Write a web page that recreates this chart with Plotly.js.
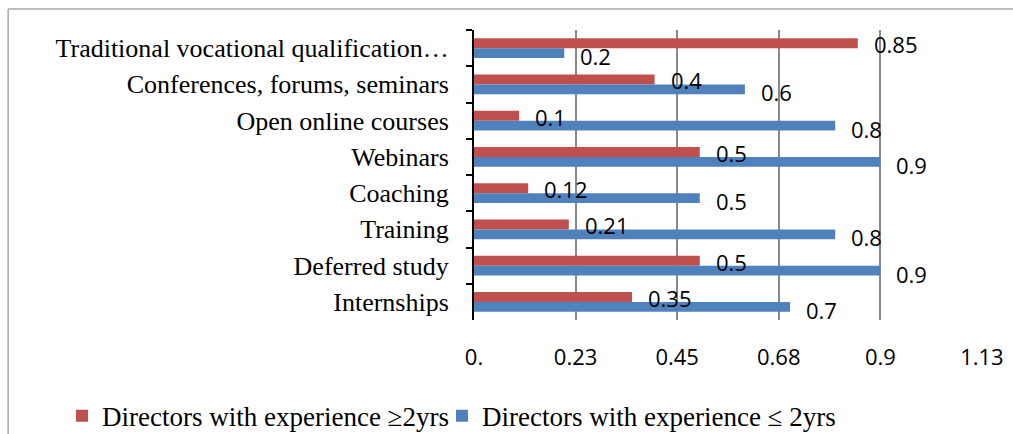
<!DOCTYPE html>
<html>
<head>
<meta charset="utf-8">
<script src="https://cdn.plot.ly/plotly-3.0.1.min.js"></script>
<style>html,body{margin:0;padding:0;background:#fff;}#chart{width:1013px;height:434px;}</style>
</head>
<body>
<div id="chart"></div>
<script>
// Categories, top to bottom as shown
const categories = [
  "Traditional vocational qualification\u2026",
  "Conferences, forums, seminars",
  "Open online courses",
  "Webinars",
  "Coaching",
  "Training",
  "Deferred study",
  "Internships"
];
const seriesNames = [
  "Directors with experience \u22652yrs",
  "Directors with experience \u2264 2yrs"
];
const moreThan2 = [0.85, 0.4, 0.1, 0.5, 0.12, 0.21, 0.5, 0.35];
const lessThan2 = [0.2, 0.6, 0.8, 0.9, 0.5, 0.8, 0.9, 0.7];
const tickVals = [0, 0.225, 0.45, 0.675, 0.9, 1.125];
const tickText = ["0.", "0.23", "0.45", "0.68", "0.9", "1.13"];

const serif = "Liberation Serif, Times New Roman, serif";
const sans = "Open Sans, Noto Sans, sans-serif";
const red = "#C0504D", blue = "#4F81BD";

const traces = [
  {type: "bar", orientation: "h", name: seriesNames[0], y: categories, x: moreThan2,
   marker: {color: red}, hoverinfo: "none", legend: "legend"},
  {type: "bar", orientation: "h", name: seriesNames[1], y: categories, x: lessThan2,
   marker: {color: blue}, hoverinfo: "none", legend: "legend2"}
];

const bargap = 0.45;
const half = (1 - bargap) / 4;
const annotations = [];
categories.forEach((c, i) => {
  annotations.push({x: moreThan2[i], y: i - half, xref: "x", yref: "y", text: String(moreThan2[i]),
    showarrow: false, xanchor: "left", yanchor: "middle", xshift: 14, yshift: -1,
    font: {family: sans, size: 22, color: "#000"}});
  annotations.push({x: lessThan2[i], y: i + half, xref: "x", yref: "y", text: String(lessThan2[i]),
    showarrow: false, xanchor: "left", yanchor: "middle", xshift: 14, yshift: -3,
    font: {family: sans, size: 22, color: "#000"}});
});

const legendStyle = {orientation: "h", xref: "container", yref: "container", xanchor: "left",
  y: 0.041, yanchor: "middle", font: {family: serif, size: 27, color: "#000"}, itemwidth: 30,
  borderwidth: 0, bgcolor: "rgba(0,0,0,0)"};

const layout = {
  width: 1013, height: 434,
  margin: {l: 474, r: 31, t: 30, b: 114, pad: 0},
  paper_bgcolor: "#fff", plot_bgcolor: "#fff",
  barmode: "group", bargap: bargap, bargroupgap: 0,
  showlegend: true,
  legend: Object.assign({}, legendStyle, {x: 62 / 1013}),
  legend2: Object.assign({}, legendStyle, {x: 442 / 1013}),
  xaxis: {range: [0, 1.1251], tickvals: tickVals, ticktext: tickText, showgrid: true,
    gridcolor: "#898989", gridwidth: 2, zeroline: false, showline: false, ticks: "",
    automargin: false,
    ticklabelstandoff: 22, tickfont: {family: sans, size: 22, color: "#000"}, fixedrange: true},
  xaxis2: {overlaying: "x", matches: "x", side: "top", anchor: "y", range: [0, 1.1251],
    tickvals: tickVals, showticklabels: false, showgrid: false, zeroline: false, automargin: false,
    showline: true, linecolor: "#000", linewidth: 2, ticks: "outside", ticklen: 7,
    tickwidth: 2, tickcolor: "#000"},
  yaxis: {type: "category", range: [categories.length - 0.5, -0.5], autorange: false,
    showline: true, linecolor: "#000", linewidth: 2,
    ticks: "outside", tickson: "boundaries", ticklen: 6, tickwidth: 2, tickcolor: "#000",
    showgrid: false, zeroline: false, ticklabelstandoff: 18, automargin: false,
    tickfont: {family: serif, size: 26, color: "#000"}, fixedrange: true},
  annotations: annotations,
  shapes: [
    {type: "line", xref: "paper", yref: "paper", x0: -0.917, x1: 1.07, y0: 1.0722, y1: 1.0722,
     line: {color: "#A6A6A6", width: 1.5}},
    {type: "line", xref: "paper", yref: "paper", x0: -0.917, x1: -0.917, y0: 1.0722, y1: -0.45,
     line: {color: "#A6A6A6", width: 1.5}}
  ]
};

Plotly.newPlot("chart", traces, layout, {displayModeBar: false, staticPlot: true});
</script>
</body>
</html>
